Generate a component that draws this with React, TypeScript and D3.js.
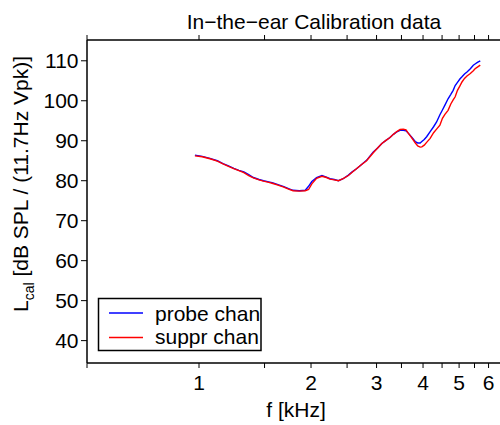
import React from "react";
import * as d3 from "d3";

const freqKHz = [0.975, 1.02, 1.07, 1.12, 1.16, 1.2, 1.24, 1.28, 1.32, 1.36, 1.4, 1.45, 1.49, 1.54, 1.58, 1.63, 1.69, 1.74, 1.79, 1.86, 1.93, 1.97, 2.01, 2.07, 2.14, 2.2, 2.25, 2.31, 2.37, 2.44, 2.52, 2.58, 2.65, 2.73, 2.82, 2.94, 3.02, 3.1, 3.18, 3.26, 3.33, 3.4, 3.47, 3.54, 3.6, 3.65, 3.73, 3.81, 3.87, 3.93, 3.97, 4.03, 4.09, 4.18, 4.27, 4.35, 4.44, 4.51, 4.58, 4.67, 4.75, 4.82, 4.88, 4.95, 5.03, 5.09, 5.17, 5.25, 5.36, 5.46, 5.52, 5.6, 5.7];

const probeChan = [86.4, 86.1, 85.6, 85.0, 84.3, 83.7, 83.1, 82.6, 82.2, 81.5, 80.8, 80.3, 80.0, 79.7, 79.45, 79.0, 78.5, 78.0, 77.6, 77.5, 77.6, 78.6, 79.8, 80.8, 81.3, 80.9, 80.5, 80.3, 80.0, 80.5, 81.4, 82.2, 83.0, 84.0, 85.1, 87.2, 88.2, 89.3, 90.1, 90.8, 91.6, 92.2, 92.6, 92.6, 92.5, 91.9, 90.9, 89.8, 89.45, 89.45, 89.8, 90.3, 91.0, 92.3, 93.5, 94.7, 96.5, 97.7, 98.9, 100.5, 101.6, 102.6, 103.8, 104.6, 105.5, 106.0, 106.7, 107.2, 108.0, 108.9, 109.2, 109.6, 110.0];

const supprChan = [86.2, 86.0, 85.5, 84.9, 84.2, 83.6, 83.0, 82.5, 82.0, 81.3, 80.7, 80.2, 79.9, 79.6, 79.3, 78.9, 78.4, 77.9, 77.5, 77.4, 77.5, 77.8, 79.2, 80.6, 81.1, 80.8, 80.4, 80.2, 80.0, 80.5, 81.3, 82.1, 83.0, 84.0, 85.0, 87.0, 88.2, 89.3, 90.1, 90.8, 91.6, 92.3, 92.8, 92.9, 92.7, 91.9, 90.7, 89.5, 88.7, 88.4, 88.45, 88.9, 89.6, 90.6, 92.0, 92.9, 93.9, 95.6, 96.6, 97.6, 99.2, 100.2, 101.0, 102.6, 103.8, 104.7, 105.6, 106.2, 106.8, 107.5, 108.0, 108.4, 108.9];

const xTicks = [0.5, 1, 1.5, 2, 2.5, 3, 3.5, 4, 4.5, 5, 5.5, 6, 6.5, 7, 7.5, 8];
const xTickLabels = [1, 2, 3, 4, 5, 6];
const yTicks = [40, 50, 60, 70, 80, 90, 100, 110];

const seriesNames = ["probe chan", "suppr chan"];
const seriesColors = ["#0000ff", "#ff0000"];

const FONT = "'Liberation Sans', Arial, Helvetica, sans-serif";
const FS = 21;

export default function App() {
  const left = 87;
  const right = 541;
  const top = 40;
  const bottom = 363;

  const x = d3.scaleLog().domain([0.5, 8.3]).range([left, right]);
  const y = d3.scaleLinear().domain([34.4, 115.2]).range([bottom, top]);

  const line = d3
    .line<number>()
    .x((_, i) => x(freqKHz[i]))
    .y((d) => y(d))
    .curve(d3.curveLinear);

  const series = [probeChan, supprChan];

  return (
    <svg
      width={500}
      height={425}
      style={{ position: "absolute", left: 0, top: 0, background: "#fff" }}
      fontFamily={FONT}
    >
      <rect x={0} y={0} width={500} height={425} fill="#fff" />
      {/* title */}
      <text x={314} y={28.5} fontSize={FS} textAnchor="middle" fill="#000">
        In−the−ear Calibration data
      </text>

      {/* frame lines */}
      <line x1={left} x2={right} y1={top} y2={top} stroke="#000" strokeWidth={1.5} />
      <line x1={left} x2={right} y1={bottom} y2={bottom} stroke="#000" strokeWidth={1.5} />
      <line x1={left} x2={left} y1={top} y2={bottom} stroke="#000" strokeWidth={1.5} />

      {/* x ticks top and bottom */}
      {xTicks.map((t) => (
        <g key={"xt" + t}>
          <line x1={x(t)} x2={x(t)} y1={top} y2={top - 5} stroke="#000" strokeWidth={1} />
          <line x1={x(t)} x2={x(t)} y1={bottom} y2={bottom + 5} stroke="#000" strokeWidth={1} />
        </g>
      ))}
      {xTickLabels.map((t) => (
        <text key={"xl" + t} x={x(t)} y={390} fontSize={FS} textAnchor="middle" fill="#000">
          {t}
        </text>
      ))}

      {/* y ticks */}
      {yTicks.map((t) => (
        <g key={"yt" + t}>
          <line x1={left - 6} x2={left} y1={y(t)} y2={y(t)} stroke="#000" strokeWidth={1} />
          <text x={78.5} y={y(t)} dy="0.36em" fontSize={FS} textAnchor="end" fill="#000">
            {t}
          </text>
        </g>
      ))}

      {/* axis labels */}
      <text x={296} y={417} fontSize={FS} textAnchor="middle" fill="#000">
        f [kHz]
      </text>
      <text
        transform={`translate(28,184) rotate(-90)`}
        fontSize={FS}
        textAnchor="middle"
        fill="#000"
      >
        L<tspan fontSize={14} dy={6}>cal</tspan>
        <tspan dy={-6}> [dB SPL / (11.7Hz Vpk)]</tspan>
      </text>

      {/* data */}
      {series.map((s, i) => (
        <path
          key={"s" + i}
          d={line(s) || ""}
          fill="none"
          stroke={seriesColors[i]}
          strokeWidth={1.4}
        />
      ))}

      {/* legend */}
      <rect x={98.5} y={298.5} width={162.5} height={52} fill="#fff" stroke="#000" strokeWidth={1.5} />
      {seriesNames.map((n, i) => (
        <g key={"lg" + i}>
          <line
            x1={109}
            x2={143}
            y1={313 + i * 24.5}
            y2={313 + i * 24.5}
            stroke={seriesColors[i]}
            strokeWidth={1.4}
          />
          <text x={155} y={321 + i * 22.5} fontSize={FS} fill="#000">
            {n}
          </text>
        </g>
      ))}
    </svg>
  );
}
